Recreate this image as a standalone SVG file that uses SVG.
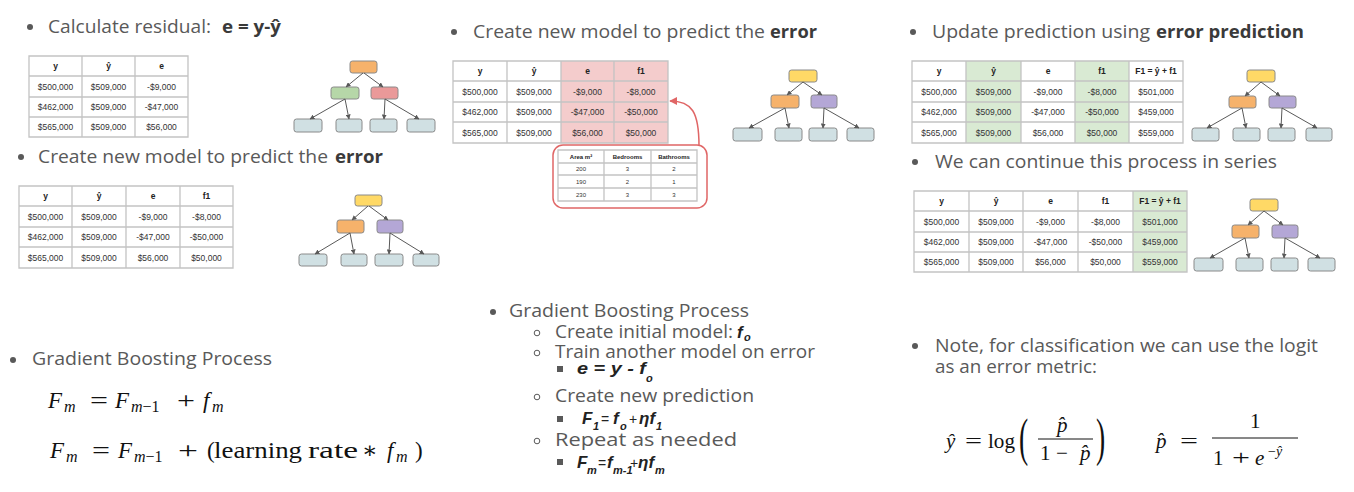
<svg xmlns="http://www.w3.org/2000/svg" width="1354" height="492" viewBox="0 0 1354 492">
<style>
.t{font-family:"Open Sans","Liberation Sans",sans-serif;font-size:18px;fill:#595959}
.b{font-weight:700;fill:#3a3a3a}
.dot{fill:#595959}
.ring{fill:none;stroke:#595959;stroke-width:1}
.cell{font-family:"Liberation Sans",Arial,sans-serif;font-size:8.5px;fill:#333;text-anchor:middle}
.sm{font-size:6px}
.hd{font-weight:700;fill:#222}
.grid{fill:none;stroke:#c3c3c3;stroke-width:1.3}
.nd{stroke:#8a8a8a;stroke-width:1}
.or{fill:#f6b26b}.gr{fill:#b6d7a8}.rd{fill:#ea9999}.ye{fill:#ffd966}.pu{fill:#b4a7d6}.lf{fill:#d0e0e3}
.arr{stroke:#595959;stroke-width:1;fill:none;marker-end:url(#ah)}
.m{font-family:"Liberation Serif","DejaVu Serif",serif;font-size:23px;fill:#111}
.mr{font-family:"Liberation Serif","DejaVu Serif",serif;font-size:21px;fill:#111}
.ms{font-size:16px}
.i{font-style:italic}
.bi{font-family:"Liberation Sans",Arial,sans-serif;font-weight:700;font-style:italic;font-size:17px;fill:#222}
.bs{font-size:11px}
.op{font-weight:400;font-style:normal;font-size:14px}
</style>
<defs>
<marker id="ah" viewBox="0 0 10 10" refX="9" refY="5" markerWidth="5" markerHeight="5" orient="auto" markerUnits="userSpaceOnUse"><path d="M0,0 L10,5 L0,10z" fill="#595959"/></marker>
<marker id="ahr" viewBox="0 0 10 10" refX="9" refY="5" markerWidth="8" markerHeight="8" orient="auto" markerUnits="userSpaceOnUse"><path d="M0,0 L10,5 L0,10z" fill="#e06666"/></marker>
</defs>
<rect width="1354" height="492" fill="#fff"/>

<!-- Titles -->
<g id="title1"><circle class="dot" cx="30" cy="27" r="3"/><text class="t" x="48" y="33" textLength="163" lengthAdjust="spacingAndGlyphs">Calculate residual:</text><text class="t b" x="222" y="33" textLength="59" lengthAdjust="spacingAndGlyphs">e = y-ŷ</text></g>
<g id="title2"><circle class="dot" cx="21" cy="157" r="3"/><text class="t" x="38" y="163" textLength="290" lengthAdjust="spacingAndGlyphs">Create new model to predict the</text><text class="t b" x="335" y="163" textLength="48" lengthAdjust="spacingAndGlyphs">error</text></g>
<g id="title3"><circle class="dot" cx="454" cy="32" r="3"/><text class="t" x="473" y="38" textLength="292" lengthAdjust="spacingAndGlyphs">Create new model to predict the</text><text class="t b" x="770" y="38" textLength="47" lengthAdjust="spacingAndGlyphs">error</text></g>
<g id="title4"><circle class="dot" cx="913" cy="32" r="3"/><text class="t" x="932" y="38" textLength="218" lengthAdjust="spacingAndGlyphs">Update prediction using</text><text class="t b" x="1156" y="38" textLength="148" lengthAdjust="spacingAndGlyphs">error prediction</text></g>
<g id="title5"><circle class="dot" cx="915" cy="162" r="3"/><text class="t" x="935" y="168" textLength="342" lengthAdjust="spacingAndGlyphs">We can continue this process in series</text></g>
<g id="title6"><circle class="dot" cx="13" cy="360" r="3"/><text class="t" x="32" y="365" textLength="240" lengthAdjust="spacingAndGlyphs">Gradient Boosting Process</text></g>
<g id="title8"><circle class="dot" cx="915" cy="346" r="3"/><text class="t" x="935" y="352" textLength="383" lengthAdjust="spacingAndGlyphs">Note, for classification we can use the logit</text><text class="t" x="935" y="373" textLength="162" lengthAdjust="spacingAndGlyphs">as an error metric:</text></g>

<!-- Table 1 -->
<g id="table1">
<path class="grid" d="M29,56 H188 V137 H29 Z M82,56 V137 M135,56 V137 M29,76 H188 M29,97 H188 M29,117 H188"/>
<text class="cell hd" x="55.5" y="69">y</text><text class="cell hd" x="108.5" y="69">ŷ</text><text class="cell hd" x="161.5" y="69">e</text>
<text class="cell" x="55.5" y="89.5">$500,000</text><text class="cell" x="108.5" y="89.5">$509,000</text><text class="cell" x="161.5" y="89.5">-$9,000</text>
<text class="cell" x="55.5" y="110">$462,000</text><text class="cell" x="108.5" y="110">$509,000</text><text class="cell" x="161.5" y="110">-$47,000</text>
<text class="cell" x="55.5" y="130">$565,000</text><text class="cell" x="108.5" y="130">$509,000</text><text class="cell" x="161.5" y="130">$56,000</text>
</g>
<!-- Table 2 -->
<g id="table2">
<path class="grid" d="M19,186 H233 V268 H19 Z M72,186 V268 M126,186 V268 M180,186 V268 M19,206 H233 M19,227 H233 M19,247 H233"/>
<text class="cell hd" x="45.5" y="199">y</text><text class="cell hd" x="99" y="199">ŷ</text><text class="cell hd" x="153" y="199">e</text><text class="cell hd" x="206.5" y="199">f1</text>
<text class="cell" x="45.5" y="219.5">$500,000</text><text class="cell" x="99" y="219.5">$509,000</text><text class="cell" x="153" y="219.5">-$9,000</text><text class="cell" x="206.5" y="219.5">-$8,000</text>
<text class="cell" x="45.5" y="240">$462,000</text><text class="cell" x="99" y="240">$509,000</text><text class="cell" x="153" y="240">-$47,000</text><text class="cell" x="206.5" y="240">-$50,000</text>
<text class="cell" x="45.5" y="260.5">$565,000</text><text class="cell" x="99" y="260.5">$509,000</text><text class="cell" x="153" y="260.5">$56,000</text><text class="cell" x="206.5" y="260.5">$50,000</text>
</g>
<!-- Table 3 -->
<g id="table3">
<rect x="561" y="61" width="107" height="82" fill="#f4cccc"/>
<path class="grid" d="M453,61 H668 V143 H453 Z M507,61 V143 M561,61 V143 M614,61 V143 M453,81 H668 M453,102 H668 M453,122 H668"/>
<text class="cell hd" x="480" y="74">y</text><text class="cell hd" x="534" y="74">ŷ</text><text class="cell hd" x="587.5" y="74">e</text><text class="cell hd" x="641" y="74">f1</text>
<text class="cell" x="480" y="94.5">$500,000</text><text class="cell" x="534" y="94.5">$509,000</text><text class="cell" x="587.5" y="94.5">-$9,000</text><text class="cell" x="641" y="94.5">-$8,000</text>
<text class="cell" x="480" y="115">$462,000</text><text class="cell" x="534" y="115">$509,000</text><text class="cell" x="587.5" y="115">-$47,000</text><text class="cell" x="641" y="115">-$50,000</text>
<text class="cell" x="480" y="135.5">$565,000</text><text class="cell" x="534" y="135.5">$509,000</text><text class="cell" x="587.5" y="135.5">$56,000</text><text class="cell" x="641" y="135.5">$50,000</text>
</g>
<!-- Feature table callout -->
<g id="features">
<rect x="553" y="145" width="154" height="63" rx="10" fill="#fff" stroke="#e06666" stroke-width="1.5"/>
<path class="grid" stroke-width="1" d="M558,150 H697 V201 H558 Z M604,150 V201 M651,150 V201 M558,163 H697 M558,175 H697 M558,188 H697"/>
<text class="cell sm hd" x="581" y="158.5">Area m²</text><text class="cell sm hd" x="627.5" y="158.5">Bedrooms</text><text class="cell sm hd" x="674" y="158.5">Bathrooms</text>
<text class="cell sm" x="581" y="171">200</text><text class="cell sm" x="627.5" y="171">3</text><text class="cell sm" x="674" y="171">2</text>
<text class="cell sm" x="581" y="183.5">190</text><text class="cell sm" x="627.5" y="183.5">2</text><text class="cell sm" x="674" y="183.5">1</text>
<text class="cell sm" x="581" y="196.5">230</text><text class="cell sm" x="627.5" y="196.5">3</text><text class="cell sm" x="674" y="196.5">3</text>
</g>
<!-- Table 4 -->
<g id="table4">
<rect x="966" y="61" width="55" height="82" fill="#d9ead3"/><rect x="1075" y="61" width="54" height="82" fill="#d9ead3"/>
<path class="grid" d="M912,61 H1183 V143 H912 Z M966,61 V143 M1021,61 V143 M1075,61 V143 M1129,61 V143 M912,81 H1183 M912,102 H1183 M912,122 H1183"/>
<text class="cell hd" x="939" y="74">y</text><text class="cell hd" x="993.5" y="74">ŷ</text><text class="cell hd" x="1048" y="74">e</text><text class="cell hd" x="1102" y="74">f1</text><text class="cell hd" x="1156" y="74">F1 = ŷ + f1</text>
<text class="cell" x="939" y="94.5">$500,000</text><text class="cell" x="993.5" y="94.5">$509,000</text><text class="cell" x="1048" y="94.5">-$9,000</text><text class="cell" x="1102" y="94.5">-$8,000</text><text class="cell" x="1156" y="94.5">$501,000</text>
<text class="cell" x="939" y="115">$462,000</text><text class="cell" x="993.5" y="115">$509,000</text><text class="cell" x="1048" y="115">-$47,000</text><text class="cell" x="1102" y="115">-$50,000</text><text class="cell" x="1156" y="115">$459,000</text>
<text class="cell" x="939" y="135.5">$565,000</text><text class="cell" x="993.5" y="135.5">$509,000</text><text class="cell" x="1048" y="135.5">$56,000</text><text class="cell" x="1102" y="135.5">$50,000</text><text class="cell" x="1156" y="135.5">$559,000</text>
</g>
<!-- Table 5 -->
<g id="table5">
<rect x="1133" y="191" width="54" height="81" fill="#d9ead3"/>
<path class="grid" d="M914,191 H1187 V272 H914 Z M969,191 V272 M1023,191 V272 M1078,191 V272 M1133,191 V272 M914,211 H1187 M914,232 H1187 M914,252 H1187"/>
<text class="cell hd" x="941.5" y="204">y</text><text class="cell hd" x="996" y="204">ŷ</text><text class="cell hd" x="1050.5" y="204">e</text><text class="cell hd" x="1105.5" y="204">f1</text><text class="cell hd" x="1160" y="204">F1 = ŷ + f1</text>
<text class="cell" x="941.5" y="224.5">$500,000</text><text class="cell" x="996" y="224.5">$509,000</text><text class="cell" x="1050.5" y="224.5">-$9,000</text><text class="cell" x="1105.5" y="224.5">-$8,000</text><text class="cell" x="1160" y="224.5">$501,000</text>
<text class="cell" x="941.5" y="245">$462,000</text><text class="cell" x="996" y="245">$509,000</text><text class="cell" x="1050.5" y="245">-$47,000</text><text class="cell" x="1105.5" y="245">-$50,000</text><text class="cell" x="1160" y="245">$459,000</text>
<text class="cell" x="941.5" y="265">$565,000</text><text class="cell" x="996" y="265">$509,000</text><text class="cell" x="1050.5" y="265">$56,000</text><text class="cell" x="1105.5" y="265">$50,000</text><text class="cell" x="1160" y="265">$559,000</text>
</g>

<!-- Tree nodes -->
<g id="t1-root"><rect class="nd or" x="350" y="61" width="27" height="12" rx="2.5"/></g>
<g id="t1-l"><rect class="nd gr" x="331" y="87" width="28" height="12" rx="2.5"/></g>
<g id="t1-r"><rect class="nd rd" x="371" y="87" width="27" height="12" rx="2.5"/></g>
<g id="t1-leaf1"><rect class="nd lf" x="294" y="119" width="28" height="13" rx="2.5"/></g>
<g id="t1-leaf2"><rect class="nd lf" x="336" y="119" width="26" height="13" rx="2.5"/></g>
<g id="t1-leaf3"><rect class="nd lf" x="370" y="119" width="27" height="13" rx="2.5"/></g>
<g id="t1-leaf4"><rect class="nd lf" x="407" y="119" width="28" height="13" rx="2.5"/></g>

<g id="t2-root"><rect class="nd ye" x="355" y="195" width="27" height="11" rx="2.5"/></g>
<g id="t2-l"><rect class="nd or" x="337" y="220" width="27" height="13" rx="2.5"/></g>
<g id="t2-r"><rect class="nd pu" x="377" y="220" width="26" height="13" rx="2.5"/></g>
<g id="t2-leaf1"><rect class="nd lf" x="299" y="254" width="28" height="12" rx="2.5"/></g>
<g id="t2-leaf2"><rect class="nd lf" x="341" y="254" width="26" height="12" rx="2.5"/></g>
<g id="t2-leaf3"><rect class="nd lf" x="375" y="254" width="28" height="12" rx="2.5"/></g>
<g id="t2-leaf4"><rect class="nd lf" x="413" y="254" width="26" height="12" rx="2.5"/></g>

<g id="t3-root"><rect class="nd ye" x="789" y="70" width="28" height="12" rx="2.5"/></g>
<g id="t3-l"><rect class="nd or" x="771" y="95" width="28" height="13" rx="2.5"/></g>
<g id="t3-r"><rect class="nd pu" x="811" y="95" width="26" height="13" rx="2.5"/></g>
<g id="t3-leaf1"><rect class="nd lf" x="733" y="128" width="29" height="13" rx="2.5"/></g>
<g id="t3-leaf2"><rect class="nd lf" x="775" y="128" width="27" height="13" rx="2.5"/></g>
<g id="t3-leaf3"><rect class="nd lf" x="809" y="128" width="28" height="13" rx="2.5"/></g>
<g id="t3-leaf4"><rect class="nd lf" x="847" y="128" width="27" height="13" rx="2.5"/></g>

<g id="t4-root"><rect class="nd ye" x="1247" y="70" width="28" height="12" rx="2.5"/></g>
<g id="t4-l"><rect class="nd or" x="1229" y="96" width="27" height="12" rx="2.5"/></g>
<g id="t4-r"><rect class="nd pu" x="1269" y="96" width="27" height="12" rx="2.5"/></g>
<g id="t4-leaf1"><rect class="nd lf" x="1192" y="128" width="27" height="13" rx="2.5"/></g>
<g id="t4-leaf2"><rect class="nd lf" x="1233" y="128" width="27" height="13" rx="2.5"/></g>
<g id="t4-leaf3"><rect class="nd lf" x="1268" y="128" width="27" height="13" rx="2.5"/></g>
<g id="t4-leaf4"><rect class="nd lf" x="1306" y="128" width="26" height="13" rx="2.5"/></g>

<g id="t5-root"><rect class="nd ye" x="1250" y="199" width="28" height="12" rx="2.5"/></g>
<g id="t5-l"><rect class="nd or" x="1232" y="225" width="27" height="13" rx="2.5"/></g>
<g id="t5-r"><rect class="nd pu" x="1272" y="225" width="26" height="13" rx="2.5"/></g>
<g id="t5-leaf1"><rect class="nd lf" x="1194" y="258" width="29" height="13" rx="2.5"/></g>
<g id="t5-leaf2"><rect class="nd lf" x="1236" y="258" width="27" height="13" rx="2.5"/></g>
<g id="t5-leaf3"><rect class="nd lf" x="1271" y="258" width="27" height="13" rx="2.5"/></g>
<g id="t5-leaf4"><rect class="nd lf" x="1308" y="258" width="27" height="13" rx="2.5"/></g>

<!-- Connectors -->
<g id="connectors">
<path class="arr" d="M363,73 L346,87"/><path class="arr" d="M364,73 L383,87"/><path class="arr" d="M345,99 L310,119"/><path class="arr" d="M345,99 L349,119"/><path class="arr" d="M385,99 L384,119"/><path class="arr" d="M385,99 L419,119"/>
<path class="arr" d="M368,206 L352,220"/><path class="arr" d="M369,206 L388,220"/><path class="arr" d="M350,233 L315,254"/><path class="arr" d="M350,233 L354,254"/><path class="arr" d="M390,233 L389,254"/><path class="arr" d="M390,233 L424,254"/>
<path class="arr" d="M803,82 L787,95"/><path class="arr" d="M803,82 L822,95"/><path class="arr" d="M785,108 L749,128"/><path class="arr" d="M785,108 L789,128"/><path class="arr" d="M824,108 L823,128"/><path class="arr" d="M824,108 L859,128"/>
<path class="arr" d="M1261,82 L1245,96"/><path class="arr" d="M1261,82 L1280,96"/><path class="arr" d="M1242,108 L1207,128"/><path class="arr" d="M1242,108 L1246,128"/><path class="arr" d="M1282,108 L1281,128"/><path class="arr" d="M1282,108 L1317,128"/>
<path class="arr" d="M1264,211 L1248,225"/><path class="arr" d="M1264,211 L1283,225"/><path class="arr" d="M1245,238 L1210,258"/><path class="arr" d="M1245,238 L1249,258"/><path class="arr" d="M1285,238 L1284,258"/><path class="arr" d="M1285,238 L1320,258"/>
<path d="M699,146 C699,112 692,101 670,101" fill="none" stroke="#e06666" stroke-width="1.5" marker-end="url(#ahr)"/>
</g>

<!-- Formulas bottom-left -->
<g id="formula-left">
<text class="m i" x="48" y="408">F</text><text class="m ms i" x="64" y="412">m</text>
<text class="m" x="90" y="408" textLength="18" lengthAdjust="spacingAndGlyphs">=</text>
<text class="m i" x="115" y="408">F</text><text class="m ms" x="131" y="412"><tspan class="i">m</tspan>−1</text>
<text class="m" x="177" y="408" textLength="18" lengthAdjust="spacingAndGlyphs">+</text>
<text class="m i" x="203" y="408">f</text><text class="m ms i" x="212" y="412">m</text>

<text class="m i" x="50" y="458">F</text><text class="m ms i" x="66" y="462">m</text>
<text class="m" x="92" y="458" textLength="18" lengthAdjust="spacingAndGlyphs">=</text>
<text class="m i" x="118" y="458">F</text><text class="m ms" x="134" y="462"><tspan class="i">m</tspan>−1</text>
<text class="m" x="178" y="458" textLength="20" lengthAdjust="spacingAndGlyphs">+</text>
<text class="m" x="207" y="458">(</text>
<text class="m" x="214" y="458" textLength="88" lengthAdjust="spacingAndGlyphs">learning</text>
<text class="m" x="308" y="458" textLength="50" lengthAdjust="spacingAndGlyphs">rate</text>
<text class="m" x="362" y="458">∗</text>
<text class="m i" x="387" y="458">f</text><text class="m ms i" x="396" y="462">m</text>
<text class="m" x="415" y="458">)</text>
</g>

<!-- Process list -->
<g id="process">
<circle class="dot" cx="493" cy="312" r="3"/>
<text class="t" x="509" y="317" textLength="240" lengthAdjust="spacingAndGlyphs">Gradient Boosting Process</text>
<circle class="ring" cx="537" cy="333" r="2.8"/>
<text class="t" x="555" y="338" textLength="178" lengthAdjust="spacingAndGlyphs">Create initial model:</text>
<text class="bi"><tspan x="737" y="338">f</tspan><tspan class="bs" x="744" y="341">o</tspan></text>
<circle class="ring" cx="537" cy="353" r="2.8"/>
<text class="t" x="555" y="358" textLength="260" lengthAdjust="spacingAndGlyphs">Train another model on error</text>
<rect class="dot" x="557" y="366" width="6" height="6"/>
<text class="bi" x="577" y="374" textLength="69" lengthAdjust="spacingAndGlyphs">e = y - f</text><text class="bi bs" x="646" y="382">o</text>
<circle class="ring" cx="537" cy="397" r="2.8"/>
<text class="t" x="555" y="402" textLength="199" lengthAdjust="spacingAndGlyphs">Create new prediction</text>
<rect class="dot" x="557" y="416" width="6" height="6"/>
<text class="bi"><tspan x="582" y="424">F</tspan><tspan class="bs" x="593" y="430">1</tspan><tspan class="op" x="601" y="424">=</tspan><tspan x="613" y="424">f</tspan><tspan class="bs" x="620" y="430">o</tspan><tspan class="op" x="629" y="424">+</tspan><tspan x="639" y="424">ηf</tspan><tspan class="bs" x="656" y="430">1</tspan></text>
<circle class="ring" cx="537" cy="441" r="2.8"/>
<text class="t" x="555" y="446" textLength="182" lengthAdjust="spacingAndGlyphs">Repeat as needed</text>
<rect class="dot" x="557" y="459" width="6" height="6"/>
<text class="bi"><tspan x="577" y="468">F</tspan><tspan class="bs" x="587" y="474">m</tspan><tspan class="op" x="598" y="468">=</tspan><tspan x="607" y="468">f</tspan><tspan class="bs" x="613" y="474">m-1</tspan><tspan class="op" x="630" y="468">+</tspan><tspan x="638" y="468">ηf</tspan><tspan class="bs" x="655" y="474">m</tspan></text>
</g>

<!-- Formulas bottom-right -->
<g id="formula-right">
<text class="mr i" x="946" y="448">ŷ</text>
<text class="mr" x="965" y="448" textLength="17" lengthAdjust="spacingAndGlyphs">=</text>
<text class="mr" x="988" y="448" textLength="27" lengthAdjust="spacingAndGlyphs">log</text>
<text class="m" transform="translate(1019,455) scale(1.2,2.3)">(</text>
<text class="mr i" x="1057" y="432">p̂</text>
<line x1="1038" y1="439" x2="1093" y2="439" stroke="#111" stroke-width="1"/>
<text class="mr" x="1040" y="460">1</text>
<text class="mr" x="1056" y="460">−</text>
<text class="mr i" x="1080" y="460">p̂</text>
<text class="m" transform="translate(1096,455) scale(1.2,2.3)">)</text>

<text class="mr i" x="1156" y="448">p̂</text>
<text class="mr" x="1180" y="448" textLength="18" lengthAdjust="spacingAndGlyphs">=</text>
<text class="mr" x="1250" y="428">1</text>
<line x1="1212" y1="438" x2="1298" y2="438" stroke="#111" stroke-width="1"/>
<text class="mr" x="1213" y="465">1</text>
<text class="mr" x="1232" y="465" textLength="18" lengthAdjust="spacingAndGlyphs">+</text>
<text class="mr i" x="1255" y="465">e</text>
<text class="mr" x="1268" y="456" style="font-size:14px">−<tspan class="i">ŷ</tspan></text>
</g>
</svg>
